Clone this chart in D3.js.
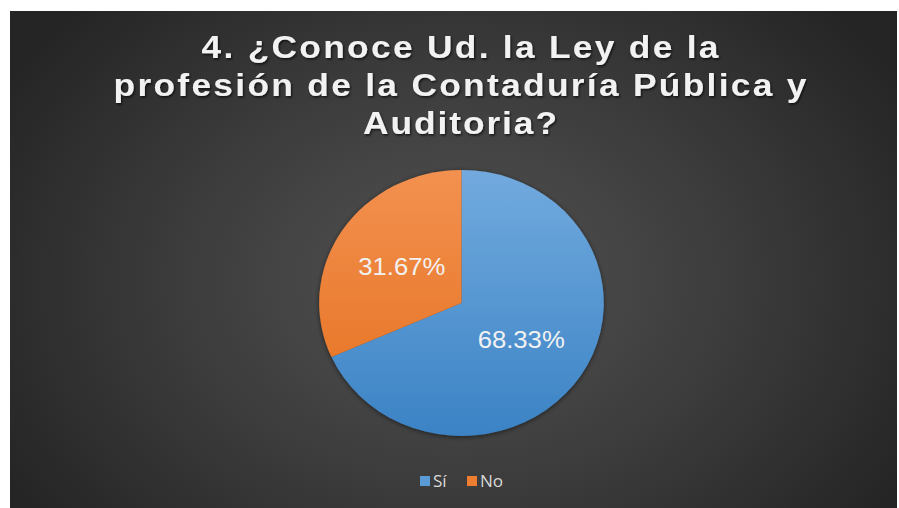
<!DOCTYPE html>
<html>
<head>
<meta charset="utf-8">
<script src="https://cdn.jsdelivr.net/npm/d3@7"></script>
<style>
  html, body { margin: 0; padding: 0; background: #ffffff; }
  svg { display: block; }
</style>
</head>
<body>
<svg id="chart" width="899" height="508"></svg>
<script>
// Survey answers for question 4
const categories = ["Sí", "No"];
const percentages = [68.33, 31.67];
const titleLines = [
  "4. ¿Conoce Ud. la Ley de la",
  "profesión de la Contaduría Pública y",
  "Auditoria?"
];

const svg = d3.select("#chart");
const W = 899, H = 508;
const SX = 1.07;      // horizontal stretch of the rendered chart
const TITLE_SX = 1.14; // title glyphs are drawn wider

const defs = svg.append("defs");

// Dark chart-area background, lighter toward the middle
const bg = defs.append("radialGradient").attr("id", "bgGrad")
  .attr("gradientUnits", "userSpaceOnUse")
  .attr("cx", 455).attr("cy", 280).attr("r", 520)
  .attr("gradientTransform", "translate(455,280) scale(1,0.75) translate(-455,-280)");
bg.append("stop").attr("offset", "0%").attr("stop-color", "#535353");
bg.append("stop").attr("offset", "55%").attr("stop-color", "#3b3b3b");
bg.append("stop").attr("offset", "100%").attr("stop-color", "#252525");

// Slice fills: light at top, deeper at bottom
const fills = {
  "Sí": ["#72aade", "#3b83c5"],
  "No": ["#f39150", "#e46f1c"]
};
Object.entries(fills).forEach(([k, c], i) => {
  const g = defs.append("linearGradient").attr("id", "slice" + i)
    .attr("gradientUnits", "userSpaceOnUse")
    .attr("x1", 0).attr("y1", -133).attr("x2", 0).attr("y2", 133);
  g.append("stop").attr("offset", "0%").attr("stop-color", c[0]);
  g.append("stop").attr("offset", "100%").attr("stop-color", c[1]);
});

const shadow = defs.append("filter").attr("id", "pieShadow")
  .attr("x", "-20%").attr("y", "-20%").attr("width", "140%").attr("height", "140%");
shadow.append("feDropShadow").attr("dx", 0).attr("dy", 1).attr("stdDeviation", 2.5)
  .attr("flood-color", "#000").attr("flood-opacity", 0.55);

const tshadow = defs.append("filter").attr("id", "textShadow")
  .attr("x", "-5%").attr("y", "-20%").attr("width", "110%").attr("height", "140%");
tshadow.append("feDropShadow").attr("dx", 1).attr("dy", 1.5).attr("stdDeviation", 1)
  .attr("flood-color", "#000").attr("flood-opacity", 0.7);

svg.append("rect")
  .attr("x", 10).attr("y", 11).attr("width", 887).attr("height", H - 11)
  .attr("fill", "url(#bgGrad)");

// Title
const titleCX = 460;
const titleBaselines = [58, 96, 134];
const titleWidths = [517, 693, 194];
svg.append("g").attr("filter", "url(#textShadow)")
  .attr("transform", `translate(${titleCX},0) scale(${TITLE_SX},1)`)
  .selectAll("text").data(titleLines).join("text")
  .attr("x", 0)
  .attr("y", (d, i) => titleBaselines[i])
  .attr("text-anchor", "middle")
  .attr("textLength", (d, i) => titleWidths[i] / TITLE_SX)
  .attr("lengthAdjust", "spacing")
  .attr("font-family", "'Liberation Sans', Arial, sans-serif")
  .attr("font-weight", "bold")
  .attr("font-size", 31)
  .attr("fill", "#f2f2f2")
  .text(d => d);

// Pie
const R = 133;
const data = categories.map((c, i) => ({ cat: c, value: percentages[i], idx: i }));
const pie = d3.pie().sort(null).value(d => d.value);
const arc = d3.arc().innerRadius(0).outerRadius(R);
const arcs = pie(data);

const pg = svg.append("g")
  .attr("transform", `translate(461.5,303) scale(${SX},1)`);

pg.append("g").attr("filter", "url(#pieShadow)")
  .selectAll("path").data(arcs).join("path")
  .attr("d", arc)
  .attr("fill", d => "url(#slice" + d.data.idx + ")");

pg.selectAll("text.lbl").data(arcs).join("text")
  .attr("class", "lbl")
  .attr("transform", d => "translate(" + arc.centroid(d) + ")")
  .attr("text-anchor", "middle")
  .attr("dy", "0.36em")
  .attr("font-family", "'Liberation Sans', Arial, sans-serif")
  .attr("font-size", 24)
  .attr("fill", "#f2f2f2")
  .text(d => d.data.value.toFixed(2) + "%");

// Legend
const legendColors = ["#5b9bd5", "#ed7d31"];
const legendX = [420, 467];
const lg = svg.append("g");
categories.forEach((c, i) => {
  lg.append("rect")
    .attr("x", legendX[i]).attr("y", 476)
    .attr("width", 10).attr("height", 10)
    .attr("fill", legendColors[i]);
  lg.append("text")
    .attr("transform", `translate(${legendX[i] + 13},487) scale(${SX},1)`)
    .attr("font-family", "'Open Sans', 'Liberation Sans', sans-serif")
    .attr("font-size", 16)
    .attr("fill", "#d9d9d9")
    .text(c);
});
</script>
</body>
</html>
